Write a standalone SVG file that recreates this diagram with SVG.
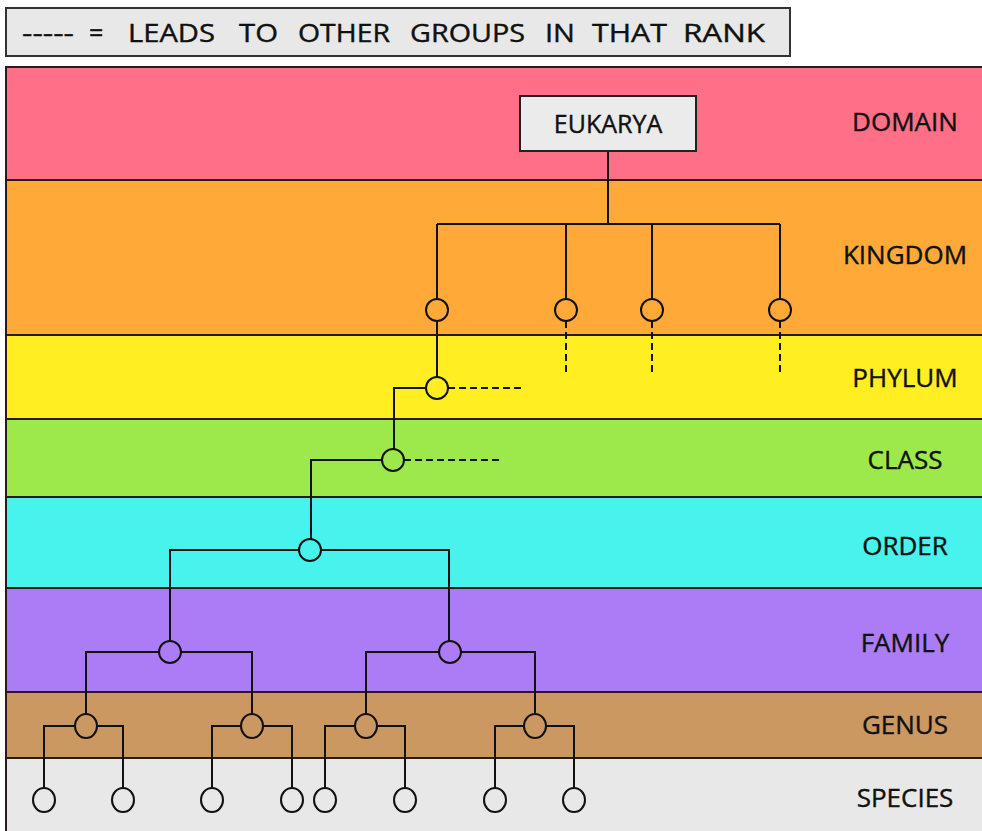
<svg xmlns="http://www.w3.org/2000/svg" width="982" height="831" viewBox="0 0 982 831">
<style>
.band{stroke:#2a1a1a;stroke-width:2}
.lbl{font-family:"Open Sans","Liberation Sans",sans-serif;font-size:26px;fill:#111;stroke:#111;stroke-width:0.4;text-anchor:middle}
.leg{font-family:"Open Sans","Liberation Sans",sans-serif;font-size:25px;fill:#111;stroke:#111;stroke-width:0.4}
.ln{fill:none;stroke:#111;stroke-width:2}
.dash{fill:none;stroke:#111;stroke-width:2;stroke-dasharray:7 4}
.nd{fill:none;stroke:#111;stroke-width:2}
</style>
<rect x="0" y="0" width="982" height="831" fill="#ffffff"/>
<g id="legend">
<rect x="6" y="8" width="784" height="48" fill="#E8E8E8" stroke="#333" stroke-width="2"/>
<text class="leg" y="42"><tspan x="22" textLength="52" lengthAdjust="spacingAndGlyphs">-----</tspan><tspan x="89">=</tspan><tspan x="128" textLength="87" lengthAdjust="spacingAndGlyphs">LEADS</tspan><tspan x="239" textLength="39" lengthAdjust="spacingAndGlyphs">TO</tspan><tspan x="298" textLength="92" lengthAdjust="spacingAndGlyphs">OTHER</tspan><tspan x="410" textLength="115" lengthAdjust="spacingAndGlyphs">GROUPS</tspan><tspan x="545" textLength="30" lengthAdjust="spacingAndGlyphs">IN</tspan><tspan x="592" textLength="75" lengthAdjust="spacingAndGlyphs">THAT</tspan><tspan x="683" textLength="82" lengthAdjust="spacingAndGlyphs">RANK</tspan></text>
</g>
<g id="bands">
<rect id="band-domain" class="band" x="6" y="67" width="980" height="113" fill="#FF6F87"/>
<rect id="band-kingdom" class="band" x="6" y="180" width="980" height="155" fill="#FFAA38"/>
<rect id="band-phylum" class="band" x="6" y="335" width="980" height="84" fill="#FFEE22"/>
<rect id="band-class" class="band" x="6" y="419" width="980" height="78" fill="#9DE84B"/>
<rect id="band-order" class="band" x="6" y="497" width="980" height="91" fill="#48F3EE"/>
<rect id="band-family" class="band" x="6" y="588" width="980" height="104" fill="#AB7CF6"/>
<rect id="band-genus" class="band" x="6" y="692" width="980" height="66" fill="#CB9862"/>
<rect id="band-species" class="band" x="6" y="758" width="980" height="80" fill="#E8E8E8"/>
<text class="lbl" x="905" y="131">DOMAIN</text>
<text class="lbl" x="905" y="264">KINGDOM</text>
<text class="lbl" x="905" y="387">PHYLUM</text>
<text class="lbl" x="905" y="469">CLASS</text>
<text class="lbl" x="905" y="555">ORDER</text>
<text class="lbl" x="905" y="652">FAMILY</text>
<text class="lbl" x="905" y="734">GENUS</text>
<text class="lbl" x="905" y="807">SPECIES</text>
</g>
<g id="connectors">
<path class="ln" d="M608 151V224M437 224H780M437 224V299M566 224V299M652 224V299M780 224V299"/>
<path class="dash" d="M566 321V372M652 321V372M780 321V372M448 388H523M404 460H500"/>
<path class="ln" d="M437 321V377M426 388H394V449M382 460H311V539"/>
<path class="ln" d="M299 550H170V641M321 550H449V641"/>
<path class="ln" d="M159 652H86V715M181 652H252V715M439 652H366V715M461 652H535V715"/>
<path class="ln" d="M75 726H44V788M97 726H123V788M241 726H212V788M263 726H292V788M355 726H325V788M377 726H405V788M524 726H495V788M546 726H574V788"/>
</g>
<g id="eukarya">
<rect x="520" y="96" width="176" height="55" fill="#EBEBEB" stroke="#222" stroke-width="2"/>
<text class="lbl" x="608" y="133" style="font-size:25px">EUKARYA</text>
</g>
<g id="kingdom-nodes">
<circle class="nd" cx="437" cy="310" r="11"/>
<circle class="nd" cx="566" cy="310" r="11"/>
<circle class="nd" cx="652" cy="310" r="11"/>
<circle class="nd" cx="780" cy="310" r="11"/>
</g>
<g id="phylum-node"><circle class="nd" cx="437" cy="388" r="11"/></g>
<g id="class-node"><circle class="nd" cx="393" cy="460" r="11"/></g>
<g id="order-node"><circle class="nd" cx="310" cy="550" r="11"/></g>
<g id="family-nodes">
<circle class="nd" cx="170" cy="652" r="11"/>
<circle class="nd" cx="450" cy="652" r="11"/>
</g>
<g id="genus-nodes">
<ellipse class="nd" cx="86" cy="726" rx="11" ry="12"/>
<ellipse class="nd" cx="252" cy="726" rx="11" ry="12"/>
<ellipse class="nd" cx="366" cy="726" rx="11" ry="12"/>
<ellipse class="nd" cx="535" cy="726" rx="11" ry="12"/>
</g>
<g id="species-nodes">
<ellipse class="nd" cx="44" cy="800" rx="11" ry="12"/>
<ellipse class="nd" cx="123" cy="800" rx="11" ry="12"/>
<ellipse class="nd" cx="212" cy="800" rx="11" ry="12"/>
<ellipse class="nd" cx="292" cy="800" rx="11" ry="12"/>
<ellipse class="nd" cx="325" cy="800" rx="11" ry="12"/>
<ellipse class="nd" cx="405" cy="800" rx="11" ry="12"/>
<ellipse class="nd" cx="495" cy="800" rx="11" ry="12"/>
<ellipse class="nd" cx="574" cy="800" rx="11" ry="12"/>
</g>
</svg>
